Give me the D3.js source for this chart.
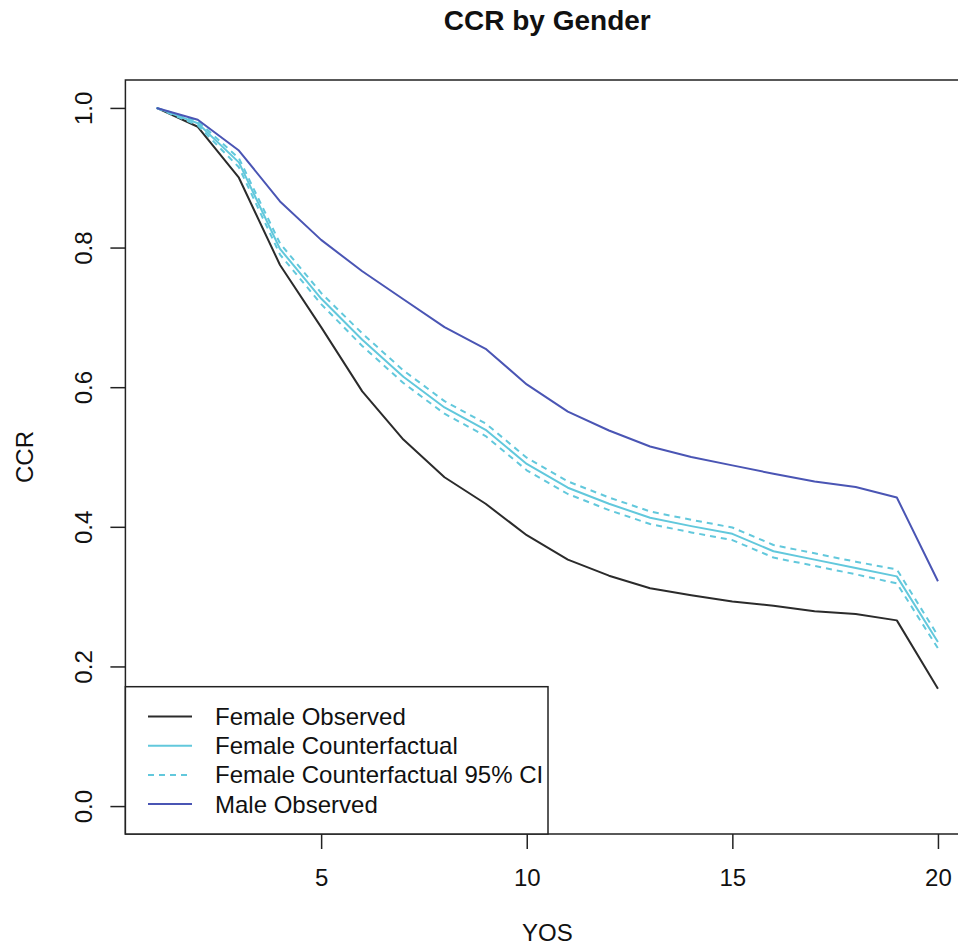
<!DOCTYPE html>
<html>
<head>
<meta charset="utf-8">
<script src="https://cdn.jsdelivr.net/npm/d3@7"></script>
<style>
  html, body { margin: 0; padding: 0; background: #fff; }
  svg { display: block; font-family: "Liberation Sans", Arial, sans-serif; }
</style>
</head>
<body>
<svg id="chart" width="958" height="947"></svg>
<script>
const yos = [1,2,3,4,5,6,7,8,9,10,11,12,13,14,15,16,17,18,19,20];
const femaleObserved = [1.000,0.973,0.900,0.775,0.686,0.594,0.525,0.471,0.433,0.388,0.353,0.330,0.312,0.302,0.293,0.287,0.279,0.275,0.266,0.168];
const femaleCounterfactual = [1.000,0.978,0.922,0.798,0.727,0.668,0.615,0.571,0.539,0.490,0.456,0.433,0.413,0.401,0.390,0.365,0.353,0.341,0.329,0.235];
const femaleCIUpper = [1.000,0.981,0.928,0.806,0.735,0.677,0.624,0.580,0.548,0.499,0.465,0.442,0.422,0.410,0.399,0.374,0.362,0.350,0.339,0.244];
const femaleCILower = [1.000,0.975,0.915,0.790,0.719,0.659,0.606,0.562,0.530,0.481,0.447,0.424,0.404,0.392,0.381,0.356,0.344,0.332,0.319,0.226];
const maleObserved = [1.000,0.983,0.939,0.866,0.811,0.766,0.726,0.686,0.655,0.604,0.565,0.538,0.515,0.500,0.488,0.476,0.465,0.457,0.442,0.322];
const xTicks = [5,10,15,20];
const yTicks = [0,0.2,0.4,0.6,0.8,1.0];
const legendLabels = ["Female Observed","Female Counterfactual","Female Counterfactual 95% CI","Male Observed"];

const COL_BLACK = "#2b2b2b", COL_CYAN = "#62c8dc", COL_BLUE = "#4a55b4";

const svg = d3.select("#chart");
const L = 125.4, R = 969.2, T = 80, B = 834;
const x = d3.scaleLinear().domain([0.24, 20.76]).range([L, R]);
const y = d3.scaleLinear().domain([-0.04, 1.04]).range([B, T]);

const FS = 24;

// axes
const xAxis = svg.append("g").attr("transform", `translate(0,${B})`)
  .call(d3.axisBottom(x).tickValues(xTicks).tickSize(15).tickPadding(20).tickFormat(d3.format("d")));
xAxis.select(".domain").remove();
xAxis.selectAll("line").attr("stroke", "#222").attr("stroke-width", 1.5);
xAxis.selectAll("text").attr("font-size", FS).attr("fill", "#111").attr("font-family", "Liberation Sans, Arial, sans-serif");

const yAxis = svg.append("g").attr("transform", `translate(${L},0)`)
  .call(d3.axisLeft(y).tickValues(yTicks).tickSize(15).tickFormat(d3.format(".1f")));
yAxis.select(".domain").remove();
yAxis.selectAll("line").attr("stroke", "#222").attr("stroke-width", 1.5);
yAxis.selectAll("text")
  .attr("font-size", FS).attr("fill", "#111").attr("font-family", "Liberation Sans, Arial, sans-serif")
  .attr("transform", "rotate(-90)")
  .attr("x", 0).attr("y", -33).attr("dy", null).attr("dx", null)
  .attr("text-anchor", "middle");

// lines
const line = d3.line().x((d, i) => x(yos[i])).y(d => y(d));
const series = [
  {data: femaleObserved, color: COL_BLACK, dash: null},
  {data: femaleCounterfactual, color: COL_CYAN, dash: null},
  {data: femaleCIUpper, color: COL_CYAN, dash: "6,5"},
  {data: femaleCILower, color: COL_CYAN, dash: "6,5"},
  {data: maleObserved, color: COL_BLUE, dash: null}
];
svg.append("g").selectAll("path").data(series).join("path")
  .attr("d", d => line(d.data))
  .attr("fill", "none")
  .attr("stroke", d => d.color)
  .attr("stroke-width", 2)
  .attr("stroke-dasharray", d => d.dash)
  .attr("stroke-linejoin", "round");

// box
svg.append("rect").attr("x", L).attr("y", T).attr("width", R - L).attr("height", B - T)
  .attr("fill", "none").attr("stroke", "#222").attr("stroke-width", 1.5);

// legend
const lg = svg.append("g");
lg.append("rect").attr("x", L).attr("y", 686.7).attr("width", 548 - L).attr("height", B - 686.7)
  .attr("fill", "#fff").attr("stroke", "#222").attr("stroke-width", 1.5);
const legendItems = [
  {color: COL_BLACK, dash: null},
  {color: COL_CYAN, dash: null},
  {color: COL_CYAN, dash: "6,5"},
  {color: COL_BLUE, dash: null}
];
legendItems.forEach((it, i) => {
  const cy = 716.5 + i * 29.2;
  lg.append("line").attr("x1", 148).attr("x2", 192).attr("y1", cy).attr("y2", cy)
    .attr("stroke", it.color).attr("stroke-width", 2).attr("stroke-dasharray", it.dash);
  lg.append("text").attr("x", 215).attr("y", cy + 8.5).attr("font-size", FS).attr("fill", "#111")
    .text(legendLabels[i]);
});

// titles
const cx = (L + R) / 2;
svg.append("text").attr("x", cx).attr("y", 30).attr("text-anchor", "middle")
  .attr("font-size", 28).attr("font-weight", "bold").attr("fill", "#111").text("CCR by Gender");
svg.append("text").attr("x", cx).attr("y", 941).attr("text-anchor", "middle")
  .attr("font-size", FS).attr("fill", "#111").text("YOS");
svg.append("text").attr("transform", `translate(33,${(T + B) / 2}) rotate(-90)`)
  .attr("text-anchor", "middle").attr("font-size", FS).attr("fill", "#111").text("CCR");
</script>
</body>
</html>
